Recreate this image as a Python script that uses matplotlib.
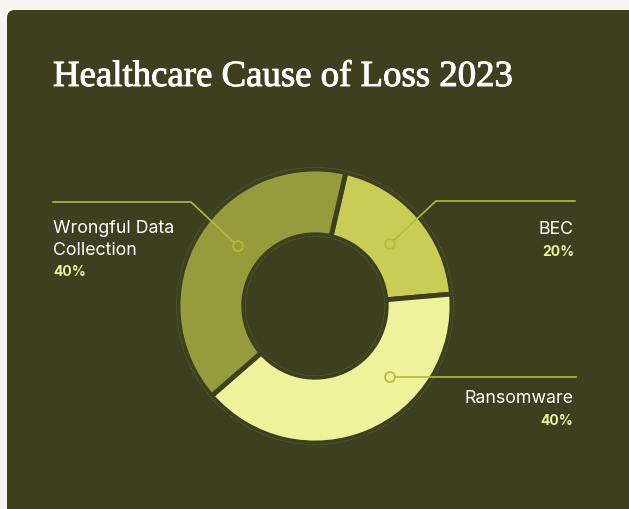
import matplotlib.pyplot as plt
import matplotlib.patheffects as pe
from matplotlib.patches import FancyBboxPatch, Circle

W, H = 629, 510

labels = ["BEC", "Ransomware", "Wrongful Data\nCollection"]
shares = [20, 40, 40]
colors = ["#c9cd55", "#eef39b", "#969c3b"]

BG = "#3d3f1e"
PAGE = "#f6f5f1"
LEAD = "#b4ba3e"


def py(y):
    # pixel row (from top) -> data y
    return H - y


fig = plt.figure(figsize=(W / 100, H / 100), dpi=100)
fig.patch.set_facecolor(PAGE)
ax = fig.add_axes([0, 0, 1, 1])

card = FancyBboxPatch((7, -20), W + 20, py(11) + 20,
                      boxstyle="round,pad=0,rounding_size=8",
                      facecolor=BG, edgecolor="none", zorder=0)
ax.add_patch(card)

cx, cy, r = 315, py(307), 137
ax.pie(shares, colors=colors, startangle=77, counterclock=False,
       center=(cx, cy), radius=r, frame=True,
       wedgeprops=dict(width=r * 0.48, edgecolor=BG, linewidth=3.5))
ax.set_xlim(0, W)
ax.set_ylim(0, H)
ax.set_aspect("equal")
ax.axis("off")

# thin rings around the donut
for rr in (r + 1.5, r * 0.52 - 1.5):
    ax.add_patch(Circle((cx, cy), rr, fill=False, edgecolor="#66683a",
                        linewidth=0.5, linestyle=(0, (2, 1.5)), zorder=3))

# leader lines
ax.plot([53, 191, 238], [py(203), py(203), py(247)], color=LEAD, lw=1.2, zorder=4)
ax.plot([390, 436, 575], [py(245), py(202), py(202)], color=LEAD, lw=1.2, zorder=4)
ax.plot([390, 576], [py(378), py(378)], color=LEAD, lw=1.2, zorder=4)
for x, y, c in [(238, 247, colors[2]), (390, 245, colors[0]), (390, 378, colors[1])]:
    ax.add_patch(Circle((x, py(y)), 5, facecolor=c, edgecolor=LEAD, lw=1.2, zorder=5))

sans = ["Inter", "DejaVu Sans"]
ax.text(53, py(87), "Healthcare Cause of Loss 2023", family="Liberation Serif",
        fontsize=26.5, color="white", ha="left", va="baseline",
        path_effects=[pe.withStroke(linewidth=0.7, foreground="white")])

ax.text(53, py(233), "Wrongful Data", family=sans, fontsize=12.8, color="white",
        va="baseline")
ax.text(53, py(255), "Collection", family=sans, fontsize=12.8, color="white",
        va="baseline")
ax.text(53, py(276), f"{shares[2]}%", family=sans, fontsize=10, color=colors[1],
        weight="bold", va="baseline")

ax.text(574, py(234), labels[0], family=sans, fontsize=12.8, color="white",
        ha="right", va="baseline")
ax.text(574, py(256), f"{shares[0]}%", family=sans, fontsize=10, color=colors[1],
        weight="bold", ha="right", va="baseline")

ax.text(573, py(403), labels[1], family=sans, fontsize=12.8, color="white",
        ha="right", va="baseline")
ax.text(573, py(425), f"{shares[1]}%", family=sans, fontsize=10, color=colors[1],
        weight="bold", ha="right", va="baseline")

fig.savefig("out.png", dpi=100, facecolor=PAGE)
